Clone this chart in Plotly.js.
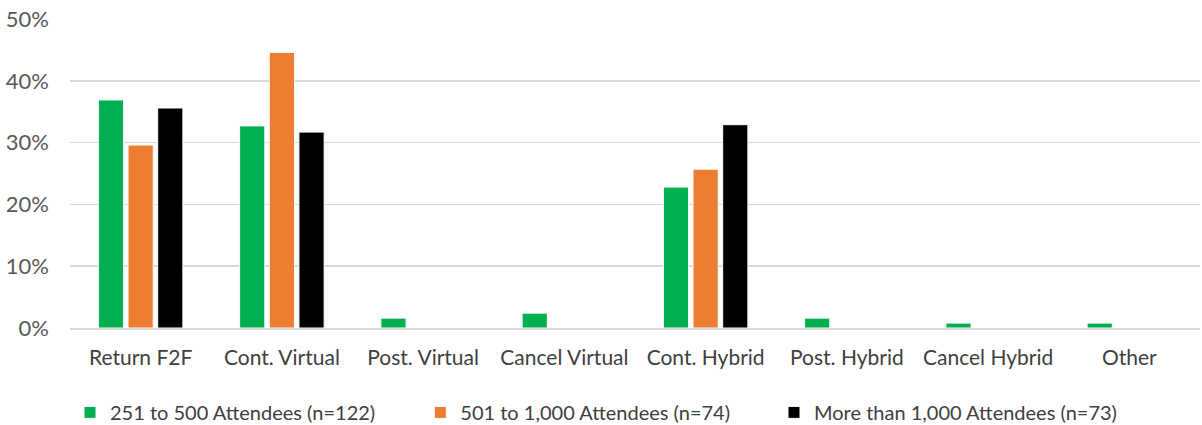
<!DOCTYPE html>
<html><head><meta charset="utf-8">
<script src="https://cdn.plot.ly/plotly-3.0.1.min.js"></script>
<style>html,body{margin:0;padding:0;background:#fff}#chart{width:1202px;height:425px}</style>
</head><body><div id="chart"></div>
<script>
const categories = ["Return F2F","Cont. Virtual","Post. Virtual","Cancel Virtual","Cont. Hybrid","Post. Hybrid","Cancel Hybrid","Other"];
const seriesNames = ["251 to 500 Attendees (n=122)","501 to 1,000 Attendees (n=74)","More than 1,000 Attendees (n=73)"];
const small = [0.369,0.327,0.016,0.024,0.228,0.016,0.008,0.008];
const medium = [0.296,0.446,0,0,0.257,0,0,0];
const large = [0.356,0.317,0,0,0.329,0,0,0];
const colors = ["#00B050","#ED7D31","#000000"];
const tickVals = [0,0.1,0.2,0.3,0.4,0.5];
const tickText = ["0%","10%","20%","30%","40%","50%"];

const seriesData = [small, medium, large];
const legendIds = ['legend','legend2','legend3'];
const traces = seriesData.map((v,i)=>({
  type:'bar', x:categories, y:v, name:seriesNames[i], legend:legendIds[i],
  marker:{color:colors[i], line:{color:'#ffffff', width:1}},
  hoverinfo:'y'
}));
const font = "Lato, 'Open Sans', sans-serif";
const legendX = [0.0, 0.31, 0.623];
const leg = (x)=>({orientation:'h', x:x, xanchor:'left', y:-0.21, yanchor:'top', font:{size:20,color:'#404040'}, itemwidth:30, bgcolor:'rgba(0,0,0,0)'});
Plotly.newPlot('chart', traces, {
  width:1202, height:425,
  margin:{l:70,r:2,t:19,b:97, autoexpand:false},
  paper_bgcolor:'#fff', plot_bgcolor:'#fff',
  barmode:'group', bargap:0.37, bargroupgap:0.15,
  font:{family:font, size:20, color:'#404040'},
  xaxis:{tickfont:{size:21,color:'#404040'}, showline:true, linecolor:'#d9d9d9', linewidth:1.5, ticks:'', showgrid:false, automargin:false, ticklabelstandoff:10},
  yaxis:{range:[0,0.5], tickvals:tickVals, ticktext:tickText, tickfont:{size:22,color:'#595959'},
    showgrid:true, gridcolor:'#d9d9d9', gridwidth:1.5, zeroline:false, showline:false, ticks:'', ticklabelstandoff:20, automargin:false},
  legend:leg(legendX[0]), legend2:leg(legendX[1]), legend3:leg(legendX[2]),
  showlegend:true
}, {displayModeBar:false, staticPlot:true});
</script></body></html>
